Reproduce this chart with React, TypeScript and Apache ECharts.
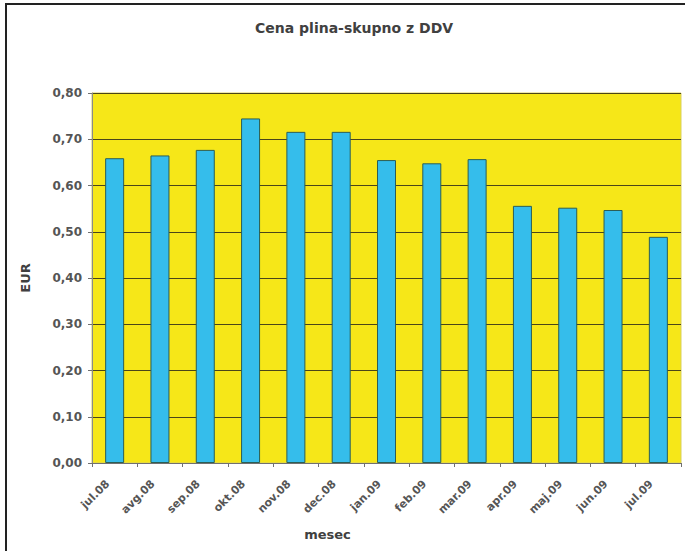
import React, { useEffect, useRef } from "react";
import * as echarts from "echarts";

const categories = ["jul.08", "avg.08", "sep.08", "okt.08", "nov.08", "dec.08", "jan.09", "feb.09", "mar.09", "apr.09", "maj.09", "jun.09", "jul.09"];
const prices = [0.659, 0.665, 0.677, 0.745, 0.716, 0.716, 0.655, 0.648, 0.657, 0.556, 0.552, 0.547, 0.489];
const yMin = 0;
const yMax = 0.8;
const yStep = 0.1;

export default function App() {
  const ref = useRef<HTMLDivElement>(null);
  useEffect(() => {
    document.body.style.margin = "0";
    const chart = echarts.init(ref.current!, undefined, { renderer: "svg" });
    const font = "'DejaVu Sans', Verdana, sans-serif";
    chart.setOption({
      animation: false,
      backgroundColor: "#ffffff",
      title: {
        text: "Cena plina-skupno z DDV",
        left: 250,
        top: 16,
        textStyle: { fontFamily: font, fontSize: 14, fontWeight: "bold", color: "#404040" },
      },
      graphic: [
        {
          type: "rect",
          shape: { x: 6, y: 4, width: 720, height: 620 },
          style: { fill: "none", stroke: "#222222", lineWidth: 2 },
          silent: true,
          z: 10,
        },
      ],
      grid: {
        left: 92,
        top: 93,
        right: 4,
        bottom: 88,
        show: true,
        backgroundColor: "#f6e718",
        borderColor: "#d8cf60",
        borderWidth: 1,
      },
      xAxis: {
        type: "category",
        data: categories,
        name: "mesec",
        nameLocation: "middle",
        nameGap: 65,
        nameTextStyle: {
          fontFamily: font,
          fontSize: 13,
          fontWeight: "bold",
          color: "#404040",
          padding: [0, 118, 0, 0],
        },
        axisLine: { show: true, lineStyle: { color: "#707070", width: 1 } },
        axisTick: { show: true, alignWithLabel: false, length: 4, lineStyle: { color: "#707070" } },
        axisLabel: {
          rotate: 45,
          fontFamily: font,
          fontSize: 11,
          fontWeight: "bold",
          color: "#555555",
          margin: 12,
          padding: [0, 10, 0, 0],
        },
        splitLine: { show: false },
      },
      yAxis: {
        type: "value",
        min: yMin,
        max: yMax,
        interval: yStep,
        name: "EUR",
        nameLocation: "middle",
        nameGap: 60,
        nameTextStyle: { fontFamily: font, fontSize: 13, fontWeight: "bold", color: "#404040" },
        axisLine: { show: true, lineStyle: { color: "#8a8a8a", width: 1 } },
        axisTick: { show: true, length: 4, lineStyle: { color: "#707070" } },
        axisLabel: {
          fontFamily: font,
          fontSize: 12,
          fontWeight: "bold",
          color: "#555555",
          margin: 10,
          formatter: (v: number) => v.toFixed(2).replace(".", ","),
        },
        splitLine: { show: true, lineStyle: { color: "#4a4519", width: 1.2 } },
      },
      series: [
        {
          type: "bar",
          data: prices,
          barWidth: 19,
          itemStyle: { color: "#35bdeb", borderColor: "#2c5e55", borderWidth: 1 },
        },
      ],
    });
    return () => chart.dispose();
  }, []);
  return <div ref={ref} style={{ width: 685, height: 551 }} />;
}
